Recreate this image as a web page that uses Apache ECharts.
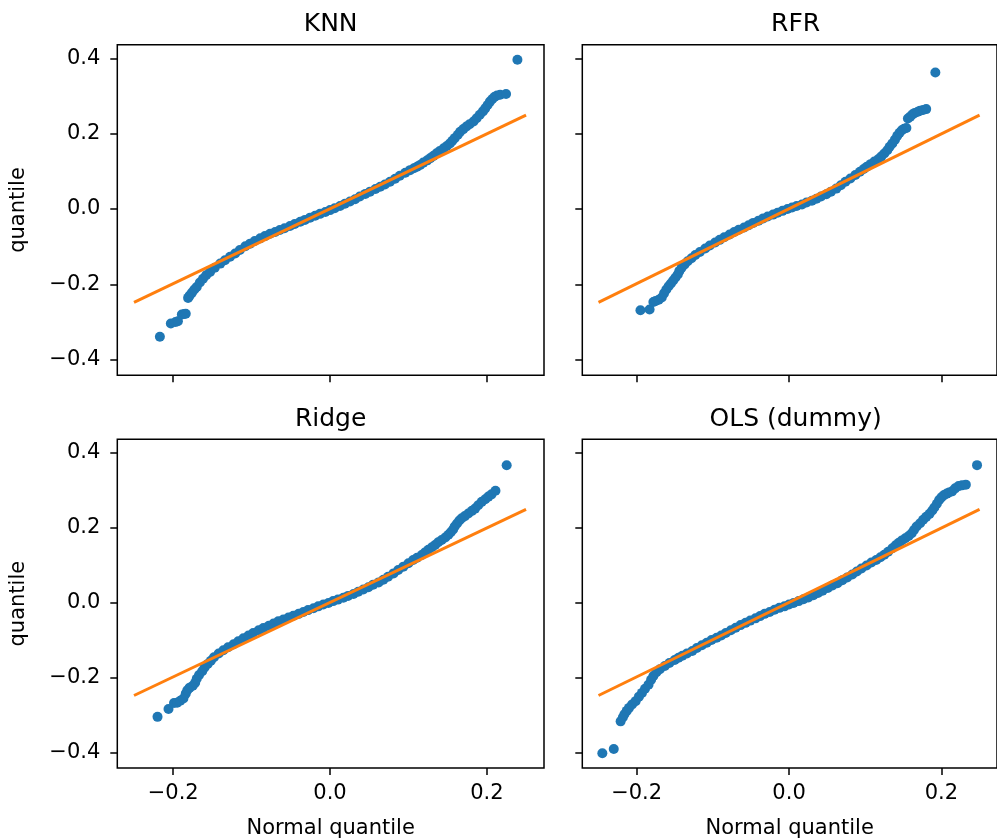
<!DOCTYPE html>
<html>
<head>
<meta charset="utf-8">
<script src="https://cdn.jsdelivr.net/npm/echarts@6/dist/echarts.min.js"></script>
<style>html,body{margin:0;padding:0;background:#fff}#c{width:997px;height:840px}</style>
</head>
<body>
<div id="c"></div>
<script>
// ---- data ----
const titles = ["KNN", "RFR", "Ridge", "OLS (dummy)"];
const xTickValues = [-0.2, 0.0, 0.2];
const yTickValues = [-0.4, -0.2, 0.0, 0.2, 0.4];
const xLabel = "Normal quantile";
const yLabel = "quantile";
const refLineX = [-0.25, 0.25];
const refLineY = [-0.248, 0.249];

const knnX = [-0.217,-0.203,-0.197,-0.194,-0.189,-0.186,-0.184,-0.181,-0.179,-0.176,-0.173,-0.170,-0.166,-0.162,-0.158,-0.153,-0.147,-0.140,-0.134,-0.1275,-0.121,-0.115,-0.108,-0.102,-0.096,-0.089,-0.083,-0.0765,-0.070,-0.064,-0.058,-0.051,-0.045,-0.038,-0.032,-0.0255,-0.019,-0.0128,-0.006,0.000,0.006,0.0128,0.019,0.0255,0.032,0.038,0.045,0.051,0.058,0.064,0.070,0.0765,0.083,0.089,0.096,0.102,0.107,0.111,0.115,0.119,0.124,0.128,0.132,0.136,0.140,0.145,0.149,0.153,0.156,0.159,0.163,0.166,0.170,0.174,0.178,0.183,0.187,0.191,0.195,0.198,0.201,0.204,0.207,0.210,0.213,0.217,0.2245,0.239];
const knnY = [-0.339,-0.304,-0.300,-0.298,-0.280,-0.279,-0.278,-0.236,-0.230,-0.222,-0.214,-0.207,-0.195,-0.185,-0.176,-0.167,-0.156,-0.145,-0.136,-0.127,-0.118,-0.109,-0.099,-0.092,-0.085,-0.078,-0.072,-0.066,-0.061,-0.056,-0.051,-0.045,-0.040,-0.034,-0.029,-0.023,-0.018,-0.013,-0.008,-0.003,0.002,0.008,0.014,0.020,0.026,0.033,0.040,0.046,0.053,0.059,0.065,0.072,0.080,0.088,0.096,0.103,0.108,0.112,0.117,0.123,0.129,0.135,0.141,0.148,0.154,0.161,0.167,0.174,0.181,0.188,0.197,0.205,0.212,0.219,0.225,0.232,0.241,0.250,0.259,0.267,0.276,0.285,0.292,0.298,0.301,0.303,0.305,0.396];

const rfrX = [-0.195,-0.183,-0.178,-0.175,-0.171,-0.167,-0.164,-0.161,-0.158,-0.155,-0.152,-0.149,-0.146,-0.144,-0.141,-0.137,-0.133,-0.128,-0.123,-0.117,-0.110,-0.104,-0.097,-0.091,-0.085,-0.078,-0.072,-0.066,-0.059,-0.053,-0.047,-0.040,-0.034,-0.028,-0.021,-0.015,-0.0085,-0.002,0.004,0.010,0.017,0.023,0.030,0.036,0.042,0.049,0.055,0.062,0.068,0.074,0.0805,0.087,0.093,0.098,0.102,0.107,0.112,0.117,0.121,0.125,0.129,0.132,0.1356,0.139,0.142,0.145,0.148,0.151,0.154,0.156,0.159,0.162,0.165,0.169,0.172,0.176,0.180,0.192];
const rfrY = [-0.269,-0.267,-0.247,-0.244,-0.241,-0.235,-0.224,-0.214,-0.205,-0.198,-0.190,-0.182,-0.174,-0.165,-0.156,-0.147,-0.139,-0.131,-0.122,-0.114,-0.105,-0.097,-0.089,-0.082,-0.075,-0.068,-0.061,-0.055,-0.049,-0.043,-0.037,-0.031,-0.025,-0.020,-0.015,-0.010,-0.005,0.000,0.004,0.008,0.012,0.017,0.022,0.027,0.033,0.039,0.046,0.054,0.063,0.072,0.081,0.090,0.099,0.106,0.112,0.119,0.126,0.132,0.139,0.147,0.156,0.165,0.174,0.184,0.194,0.202,0.209,0.213,0.215,0.240,0.245,0.251,0.255,0.258,0.261,0.263,0.265,0.362];

const ridgeX = [-0.220,-0.206,-0.199,-0.195,-0.191,-0.187,-0.184,-0.182,-0.179,-0.175,-0.172,-0.170,-0.167,-0.163,-0.160,-0.156,-0.152,-0.148,-0.142,-0.136,-0.130,-0.123,-0.117,-0.1105,-0.104,-0.098,-0.091,-0.085,-0.078,-0.072,-0.066,-0.0595,-0.053,-0.0468,-0.040,-0.034,-0.028,-0.021,-0.015,-0.0085,-0.002,0.004,0.010,0.017,0.023,0.030,0.036,0.0425,0.049,0.055,0.062,0.068,0.074,0.081,0.087,0.0935,0.100,0.106,0.111,0.117,0.121,0.1254,0.130,0.134,0.138,0.1424,0.147,0.151,0.154,0.157,0.159,0.162,0.165,0.168,0.172,0.1764,0.181,0.185,0.189,0.1935,0.198,0.202,0.206,0.211,0.2253];
const ridgeY = [-0.305,-0.284,-0.268,-0.267,-0.262,-0.256,-0.243,-0.234,-0.227,-0.222,-0.214,-0.203,-0.193,-0.183,-0.173,-0.164,-0.155,-0.146,-0.136,-0.127,-0.119,-0.111,-0.103,-0.095,-0.088,-0.081,-0.074,-0.068,-0.062,-0.056,-0.050,-0.045,-0.040,-0.035,-0.030,-0.025,-0.020,-0.015,-0.010,-0.005,-0.001,0.004,0.008,0.013,0.018,0.023,0.029,0.035,0.041,0.048,0.054,0.061,0.069,0.078,0.087,0.096,0.105,0.114,0.120,0.127,0.134,0.141,0.148,0.154,0.161,0.167,0.174,0.181,0.188,0.195,0.203,0.211,0.219,0.225,0.231,0.238,0.245,0.251,0.260,0.269,0.276,0.283,0.289,0.2985,0.3667];

const olsX = [-0.245,-0.230,-0.221,-0.218,-0.216,-0.213,-0.210,-0.206,-0.2013,-0.197,-0.193,-0.189,-0.1844,-0.181,-0.178,-0.174,-0.1695,-0.163,-0.157,-0.150,-0.145,-0.140,-0.134,-0.127,-0.121,-0.1144,-0.108,-0.1017,-0.095,-0.089,-0.083,-0.0763,-0.070,-0.0636,-0.057,-0.0509,-0.044,-0.038,-0.032,-0.0254,-0.019,-0.0127,-0.006,0.000,0.006,0.0127,0.019,0.0254,0.032,0.038,0.044,0.0509,0.057,0.0636,0.070,0.0763,0.083,0.089,0.095,0.1017,0.108,0.1144,0.120,0.125,0.130,0.1356,0.140,0.144,0.148,0.1526,0.157,0.161,0.164,0.1674,0.172,0.176,0.180,0.1844,0.188,0.1907,0.194,0.197,0.200,0.2034,0.207,0.210,0.214,0.218,0.2225,0.227,0.232,0.2467];
const olsY = [-0.402,-0.391,-0.317,-0.306,-0.298,-0.289,-0.281,-0.272,-0.263,-0.251,-0.241,-0.230,-0.219,-0.206,-0.196,-0.186,-0.178,-0.169,-0.161,-0.153,-0.147,-0.142,-0.136,-0.129,-0.121,-0.114,-0.107,-0.100,-0.094,-0.088,-0.081,-0.074,-0.067,-0.060,-0.054,-0.048,-0.042,-0.036,-0.030,-0.025,-0.019,-0.014,-0.010,-0.005,-0.001,0.004,0.009,0.014,0.020,0.026,0.032,0.039,0.046,0.052,0.060,0.067,0.075,0.083,0.091,0.099,0.107,0.114,0.121,0.128,0.136,0.145,0.153,0.160,0.166,0.172,0.178,0.185,0.194,0.203,0.212,0.221,0.229,0.237,0.246,0.254,0.264,0.274,0.281,0.287,0.291,0.294,0.297,0.305,0.311,0.313,0.315,0.367];

// ---- chart ----
const panels = [[knnX, knnY], [rfrX, rfrY], [ridgeX, ridgeY], [olsX, olsY]];
const FONT = '"DejaVu Sans", sans-serif';
const X_MIN = -0.2713, X_MAX = 0.2729;
const Y_MIN = -0.4415, Y_MAX = 0.436;
const gridBoxes = [
  {left: 117.3, top: 44.7, width: 426.7, height: 330.6},
  {left: 582.3, top: 44.7, width: 426.7, height: 330.6},
  {left: 117.3, top: 439.3, width: 426.7, height: 330},
  {left: 582.3, top: 439.3, width: 426.7, height: 330}
];
const fmt = v => {
  const r = Math.round(v * 10) / 10;
  if (Math.abs(r) < 1e-9) return '0.0';
  return (r < 0 ? '\u2212' : '') + Math.abs(r).toFixed(1);
};
const zip = (a, b) => a.map((v, i) => [v, b[i]]);

const grid = gridBoxes.map(g => Object.assign({show: true, borderColor: '#000', borderWidth: 1.5, backgroundColor: 'transparent', containLabel: false}, g));
const xAxis = [], yAxis = [], series = [], graphic = [];
gridBoxes.forEach((g, i) => {
  const bottomRow = i >= 2, leftCol = i % 2 === 0;
  xAxis.push({
    type: 'value', gridIndex: i, min: X_MIN, max: X_MAX, position: 'bottom',
    axisLine: {show: false, onZero: false}, splitLine: {show: false},
    axisTick: {show: true, inside: false, length: 7, lineStyle: {color: '#000', width: 1.5}, customValues: xTickValues},
    axisLabel: {show: bottomRow, customValues: xTickValues, formatter: fmt, color: '#000', fontSize: 21, fontFamily: FONT, margin: 15},
    name: bottomRow ? xLabel : '', nameLocation: 'middle', nameGap: 50,
    nameTextStyle: {color: '#000', fontSize: 21, fontFamily: FONT}
  });
  yAxis.push({
    type: 'value', gridIndex: i, min: Y_MIN, max: Y_MAX, position: 'left',
    axisLine: {show: false, onZero: false}, splitLine: {show: false},
    axisTick: {show: true, inside: false, length: 7, lineStyle: {color: '#000', width: 1.5}, customValues: yTickValues},
    axisLabel: {show: leftCol, customValues: yTickValues, formatter: fmt, color: '#000', fontSize: 21, fontFamily: FONT, margin: 17},
    name: leftCol ? yLabel : '', nameLocation: 'middle', nameGap: 88,
    nameTextStyle: {color: '#000', fontSize: 21, fontFamily: FONT}
  });
  series.push({
    type: 'scatter', xAxisIndex: i, yAxisIndex: i, symbol: 'circle', symbolSize: 10,
    itemStyle: {color: '#1f77b4', opacity: 1}, data: zip(panels[i][0], panels[i][1]), z: 2, silent: true
  });
  series.push({
    type: 'line', xAxisIndex: i, yAxisIndex: i, showSymbol: false, symbol: 'none',
    lineStyle: {color: '#ff7f0e', width: 3}, data: zip(refLineX, refLineY), z: 3, silent: true
  });
  graphic.push({
    type: 'text', x: g.left + 213.35, y: g.top - 20,
    style: {text: titles[i], font: '25px ' + FONT, fill: '#000', align: 'center', verticalAlign: 'middle'}
  });
});

const chart = echarts.init(document.getElementById('c'), null, {renderer: 'canvas'});
chart.setOption({animation: false, backgroundColor: '#fff', grid, xAxis, yAxis, series, graphic});
</script>
</body>
</html>
